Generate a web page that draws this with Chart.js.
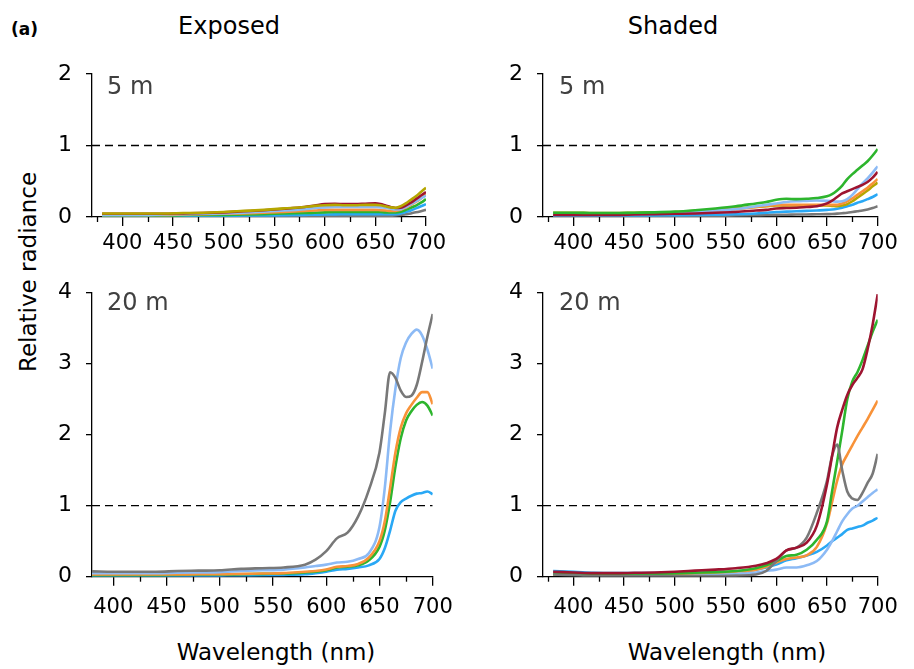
<!DOCTYPE html>
<html>
<head>
<meta charset="UTF-8">
<title>Relative radiance</title>
<script src="https://cdn.jsdelivr.net/npm/chart.js"></script>
<style>
    body { margin: 0; background: #fff; font-family: "DejaVu Sans", sans-serif; }
    .janela { position: relative; width: 914px; height: 669px; overflow: hidden; }
    .painel { position: absolute; }
    .txt { position: absolute; white-space: nowrap; color: #000; }
    .centro { transform: translate(-50%, -50%); }
    .prof { position: absolute; white-space: nowrap; color: #404040; font-size: 24px; transform: translateY(-50%); }
</style>
</head>
<body>
<div class="janela">
    <div class="txt" style="left:11px; top:29px; font-size:17px; font-weight:bold; transform:translateY(-50%);">(a)</div>
    <div class="txt centro" style="left:229px; top:26px; font-size:24px;">Exposed</div>
    <div class="txt centro" style="left:673px; top:26px; font-size:24px;">Shaded</div>
    <div class="txt centro" style="left:28px; top:272px; font-size:23px; transform:translate(-50%,-50%) rotate(-90deg);">Relative radiance</div>
    <div class="txt centro" style="left:276px; top:652px; font-size:23px;">Wavelength (nm)</div>
    <div class="txt centro" style="left:727px; top:652px; font-size:23px;">Wavelength (nm)</div>

    <div class="painel" style="left:30px; top:55px;"><canvas id="expostoRaso" width="430" height="210"></canvas></div>
    <div class="painel" style="left:480px; top:55px;"><canvas id="sombraRaso" width="430" height="210"></canvas></div>
    <div class="painel" style="left:30px; top:275px;"><canvas id="expostoFundo" width="430" height="350"></canvas></div>
    <div class="painel" style="left:480px; top:275px;"><canvas id="sombraFundo" width="430" height="350"></canvas></div>

    <div class="prof" style="left:107px; top:86px;">5 m</div>
    <div class="prof" style="left:559px; top:86px;">5 m</div>
    <div class="prof" style="left:107px; top:302px;">20 m</div>
    <div class="prof" style="left:559px; top:302px;">20 m</div>
</div>

<script>
    // wavelengths (nm)
    const wl = [380, 400, 420, 440, 460, 480, 500, 520, 540, 560, 580, 590, 600, 610, 620, 630, 640, 650, 655, 660, 665, 670, 675, 680, 685, 690, 695, 700];
    const xTicks = [400, 450, 500, 550, 600, 650, 700];
    const xMinor = [375, 425, 475, 525, 575, 625, 675];
    const yTicksShallow = [0, 1, 2];
    const yTicksDeep = [0, 1, 2, 3, 4];
    const refLevel = 1;

    // Exposed, 5 m
    const exp5Olive = [.05, .05, .05, .05, .055, .06, .07, .085, .1, .12, .14, .155, .165, .17, .165, .165, .17, .17, .165, .15, .135, .13, .15, .19, .24, .29, .35, .41];
    const exp5Red = [.045, .045, .045, .045, .05, .055, .065, .08, .095, .115, .14, .16, .18, .185, .18, .18, .185, .19, .18, .16, .14, .125, .13, .16, .2, .25, .3, .35];
    const exp5LightBlue = [.03, .03, .03, .035, .04, .045, .05, .06, .075, .09, .11, .125, .135, .14, .14, .14, .14, .14, .135, .13, .115, .105, .11, .14, .18, .22, .26, .3];
    const exp5Orange = [.03, .03, .03, .03, .035, .04, .045, .05, .06, .07, .085, .09, .1, .1, .1, .1, .1, .1, .095, .09, .085, .085, .1, .13, .17, .21, .26, .32];
    const exp5Green = [.02, .02, .02, .02, .025, .03, .03, .035, .04, .05, .055, .06, .065, .07, .07, .07, .07, .07, .07, .065, .065, .065, .075, .1, .13, .16, .2, .25];
    const exp5Blue = [.01, .01, .01, .01, .012, .015, .017, .02, .022, .025, .03, .032, .035, .037, .038, .039, .04, .04, .04, .04, .04, .04, .05, .07, .09, .12, .15, .18];
    const exp5Gray = [.005, .005, .005, .005, .005, .005, .006, .007, .008, .009, .01, .01, .011, .012, .012, .013, .014, .015, .015, .016, .018, .02, .027, .038, .05, .065, .082, .1];

    // Shaded, 5 m
    const sha5Green = [.06, .06, .055, .055, .06, .065, .075, .095, .12, .15, .19, .21, .24, .255, .25, .255, .265, .29, .32, .37, .44, .53, .6, .66, .72, .78, .86, .95];
    const sha5LightBlue = [.04, .04, .04, .04, .04, .045, .055, .07, .09, .11, .15, .17, .19, .21, .22, .225, .23, .225, .22, .215, .22, .25, .31, .39, .47, .54, .62, .71];
    const sha5Red = [.03, .03, .03, .03, .035, .04, .045, .05, .06, .07, .09, .1, .12, .125, .13, .14, .15, .19, .23, .28, .33, .36, .39, .42, .45, .49, .55, .63];
    const sha5Orange = [.04, .04, .04, .04, .045, .05, .06, .075, .09, .11, .14, .155, .17, .17, .17, .17, .17, .17, .17, .17, .19, .22, .26, .31, .36, .41, .47, .53];
    const sha5Olive = [.06, .06, .055, .055, .06, .065, .07, .085, .1, .12, .14, .15, .16, .16, .16, .16, .16, .16, .155, .15, .16, .18, .22, .27, .32, .37, .43, .48];
    const sha5Blue = [.02, .02, .02, .02, .02, .022, .025, .028, .032, .038, .05, .06, .07, .075, .08, .085, .09, .1, .105, .115, .13, .15, .17, .2, .22, .25, .28, .32];
    const sha5Gray = [.01, .01, .01, .01, .01, .01, .012, .014, .016, .02, .025, .028, .03, .032, .034, .036, .038, .04, .043, .047, .053, .06, .07, .08, .09, .105, .125, .15];

    // Exposed, 20 m
    const exp20Gray = [.075, .07, .07, .07, .08, .085, .09, .11, .12, .13, .17, .24, .36, .54, .62, .85, 1.22, 1.75, 2.3, 2.88, 2.8, 2.62, 2.53, 2.55, 2.7, 3.02, 3.38, 3.7];
    const exp20LightBlue = [.05, .05, .05, .05, .055, .06, .065, .08, .09, .1, .13, .15, .17, .2, .21, .25, .33, .7, 1.25, 2.05, 2.65, 3.08, 3.3, 3.42, 3.48, 3.4, 3.2, 2.93];
    const exp20Orange = [.03, .03, .03, .03, .03, .035, .035, .04, .045, .05, .07, .08, .1, .14, .15, .18, .27, .5, .78, 1.25, 1.75, 2.1, 2.3, 2.42, 2.52, 2.6, 2.6, 2.43];
    const exp20Green = [.02, .02, .02, .02, .025, .03, .03, .035, .04, .045, .06, .07, .09, .13, .14, .16, .23, .42, .65, 1.05, 1.55, 1.95, 2.2, 2.33, 2.42, 2.46, 2.41, 2.27];
    const exp20Blue = [.01, .01, .01, .01, .01, .012, .015, .018, .02, .025, .035, .05, .07, .1, .11, .13, .16, .25, .4, .65, .93, 1.05, 1.1, 1.14, 1.17, 1.18, 1.2, 1.16];

    // Shaded, 20 m
    const sha20Red = [.07, .06, .05, .05, .055, .06, .07, .085, .1, .12, .155, .19, .25, .37, .41, .48, .72, 1.3, 1.7, 2.1, 2.35, 2.56, 2.7, 2.8, 2.92, 3.2, 3.55, 3.98];
    const sha20Green = [.04, .035, .03, .03, .035, .04, .045, .055, .065, .08, .12, .16, .22, .29, .31, .38, .52, .78, 1.2, 1.62, 2.05, 2.5, 2.75, 2.88, 3.05, 3.25, 3.45, 3.62];
    const sha20Orange = [.03, .03, .03, .03, .03, .035, .04, .05, .06, .075, .1, .14, .2, .25, .27, .3, .42, .75, 1.05, 1.35, 1.58, 1.72, 1.85, 1.98, 2.1, 2.22, 2.35, 2.48];
    const sha20Gray = [.03, .02, .01, .01, .01, .01, .01, .01, .01, .015, .03, .08, .22, .37, .41, .55, .9, 1.35, 1.7, 1.86, 1.5, 1.2, 1.1, 1.08, 1.18, 1.32, 1.45, 1.73];
    const sha20LightBlue = [.03, .03, .03, .03, .03, .03, .03, .035, .04, .045, .06, .08, .1, .13, .13, .16, .22, .38, .5, .64, .78, .88, .96, 1.0, 1.06, 1.12, 1.18, 1.23];
    const sha20Blue = [.08, .07, .055, .05, .05, .05, .05, .055, .065, .075, .1, .13, .17, .23, .26, .3, .35, .44, .5, .55, .6, .66, .68, .7, .72, .76, .79, .83];

    const cores = {
        red: '#9e1430',
        green: '#2db52d',
        lightBlue: '#8cbaf5',
        orange: '#f89238',
        olive: '#b5a600',
        blue: '#29a8f5',
        gray: '#787878'
    };

    Chart.defaults.font.family = '"DejaVu Sans", sans-serif';
    Chart.defaults.font.size = 21;
    Chart.defaults.color = '#000';

    // short ticks between the labelled ones
    const minorTicks = {
        id: 'minorTicks',
        afterDraw(chart) {
            const x = chart.scales.x;
            const ctx = chart.ctx;
            const y0 = chart.chartArea.bottom;
            ctx.save();
            ctx.strokeStyle = '#000';
            ctx.lineWidth = 1.3;
            xMinor.forEach(v => {
                if (v < x.min || v > x.max) return;
                const px = Math.round(x.getPixelForValue(v)) + 0.5;
                ctx.beginPath();
                ctx.moveTo(px, y0);
                ctx.lineTo(px, y0 + 5);
                ctx.stroke();
            });
            ctx.restore();
        }
    };

    function serie(vals, cor) {
        return {
            data: wl.map((w, i) => ({ x: w, y: vals[i] })),
            borderColor: cor,
            borderWidth: 2.6,
            pointRadius: 0,
            fill: false,
            cubicInterpolationMode: 'monotone'
        };
    }

    function desenharPainel(id, minX, yTicks, series, box) {
        const maxY = yTicks[yTicks.length - 1];
        const linhaRef = {
            data: [{ x: minX, y: refLevel }, { x: 700, y: refLevel }],
            borderColor: '#000',
            borderWidth: 1.3,
            borderDash: [8, 5],
            pointRadius: 0,
            fill: false
        };

        const config = {
            type: 'line',
            data: { datasets: series.concat([linhaRef]) },
            options: {
                responsive: false,
                animation: false,
                events: [],
                layout: { padding: { left: 0, top: box.top, right: box.right, bottom: 0 } },
                plugins: { legend: { display: false }, tooltip: { enabled: false } },
                scales: {
                    x: {
                        type: 'linear',
                        min: minX,
                        max: 700,
                        afterBuildTicks: s => { s.ticks = xTicks.map(v => ({ value: v })); },
                        afterFit: s => { s.height = box.xH; s.paddingLeft = 0; s.paddingRight = 0; },
                        grid: { drawOnChartArea: false, drawTicks: true, tickLength: 9, color: '#000', lineWidth: 1.3 },
                        border: { color: '#000', width: 1.3 },
                        ticks: { padding: box.labelPad, maxRotation: 0, autoSkip: false, font: { size: 21 } }
                    },
                    y: {
                        min: 0,
                        max: maxY,
                        afterBuildTicks: s => { s.ticks = yTicks.map(v => ({ value: v })); },
                        afterFit: s => { s.width = box.yW; s.paddingTop = 0; s.paddingBottom = 0; },
                        grid: { drawOnChartArea: false, drawTicks: true, tickLength: 6, color: '#000', lineWidth: 1.3 },
                        border: { color: '#000', width: 1.3 },
                        ticks: { padding: 14, font: { size: 22 } }
                    }
                }
            },
            plugins: [minorTicks]
        };

        return new Chart(document.getElementById(id), config);
    }

    desenharPainel('expostoRaso', 370, yTicksShallow, [
        serie(exp5Olive, cores.olive),
        serie(exp5Red, cores.red),
        serie(exp5LightBlue, cores.lightBlue),
        serie(exp5Orange, cores.orange),
        serie(exp5Green, cores.green),
        serie(exp5Blue, cores.blue),
        serie(exp5Gray, cores.gray)
    ], { top: 19, right: 34, yW: 62, xH: 48, labelPad: 5 });

    desenharPainel('sombraRaso', 370, yTicksShallow, [
        serie(sha5Green, cores.green),
        serie(sha5Red, cores.red),
        serie(sha5LightBlue, cores.lightBlue),
        serie(sha5Orange, cores.orange),
        serie(sha5Olive, cores.olive),
        serie(sha5Blue, cores.blue),
        serie(sha5Gray, cores.gray)
    ], { top: 19, right: 32.3, yW: 63, xH: 48, labelPad: 5 });

    desenharPainel('expostoFundo', 380, yTicksDeep, [
        serie(exp20Gray, cores.gray),
        serie(exp20LightBlue, cores.lightBlue),
        serie(exp20Orange, cores.orange),
        serie(exp20Green, cores.green),
        serie(exp20Blue, cores.blue)
    ], { top: 17.7, right: 27.3, yW: 62, xH: 48.3, labelPad: 9 });

    desenharPainel('sombraFundo', 370, yTicksDeep, [
        serie(sha20Red, cores.red),
        serie(sha20Gray, cores.gray),
        serie(sha20Green, cores.green),
        serie(sha20Orange, cores.orange),
        serie(sha20LightBlue, cores.lightBlue),
        serie(sha20Blue, cores.blue)
    ], { top: 17.7, right: 32.3, yW: 63, xH: 48.3, labelPad: 9 });
</script>
</body>
</html>
